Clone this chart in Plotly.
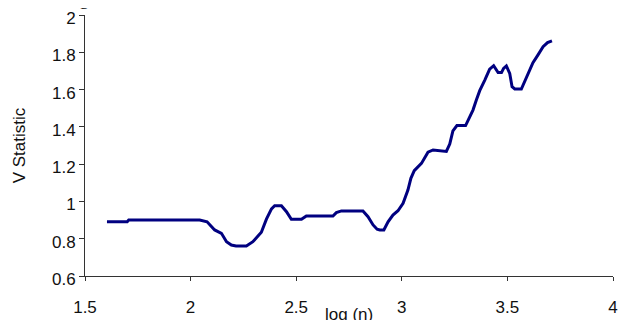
import plotly.graph_objects as go

log_n = [1.604, 1.700, 1.707, 2.043, 2.078, 2.114, 2.146, 2.170, 2.193, 2.215,
         2.264, 2.295, 2.335, 2.359, 2.383, 2.398, 2.430, 2.454, 2.477, 2.525,
         2.548, 2.674, 2.690, 2.714, 2.816, 2.840, 2.864, 2.883, 2.896, 2.915,
         2.935, 2.958, 2.982, 3.006, 3.029, 3.043, 3.059, 3.093, 3.124, 3.148,
         3.211, 3.227, 3.242, 3.261, 3.302, 3.324, 3.337, 3.353, 3.369, 3.393,
         3.416, 3.435, 3.456, 3.472, 3.482, 3.495, 3.511, 3.522, 3.535, 3.566,
         3.582, 3.605, 3.621, 3.645, 3.669, 3.690, 3.711]
v_stat = [0.891, 0.891, 0.900, 0.900, 0.891, 0.847, 0.829, 0.784, 0.766, 0.761,
          0.761, 0.784, 0.835, 0.905, 0.960, 0.977, 0.977, 0.945, 0.904, 0.904,
          0.922, 0.922, 0.940, 0.949, 0.949, 0.918, 0.874, 0.851, 0.847, 0.847,
          0.891, 0.927, 0.950, 0.990, 1.061, 1.124, 1.165, 1.204, 1.264, 1.276,
          1.268, 1.308, 1.378, 1.407, 1.407, 1.455, 1.490, 1.544, 1.594, 1.651,
          1.709, 1.728, 1.691, 1.691, 1.714, 1.727, 1.687, 1.615, 1.603, 1.603,
          1.642, 1.705, 1.744, 1.786, 1.830, 1.852, 1.861]

x_ticks = [1.5, 2, 2.5, 3, 3.5, 4]
x_tick_text = ["1.5", "2", "2.5", "3", "3.5", "4"]
y_ticks = [0.6, 0.8, 1, 1.2, 1.4, 1.6, 1.8, 2]
y_tick_text = ["0.6", "0.8", "1", "1.2", "1.4", "1.6", "1.8", "2"]

FONT = "Arial, Liberation Sans, sans-serif"

fig = go.Figure()
fig.add_trace(go.Scatter(x=log_n, y=v_stat, mode="lines",
                         line=dict(color="#000080", width=3),
                         showlegend=False, hoverinfo="skip"))

# the page body adds an 8px offset; margins compensate for it
fig.update_layout(
    width=626, height=320,
    margin=dict(l=77, r=21, t=7, b=52, autoexpand=False),
    paper_bgcolor="white", plot_bgcolor="white",
    font=dict(family=FONT, size=17, color="#111"),
    xaxis=dict(range=[1.5, 4], tickvals=x_ticks, ticktext=x_tick_text,
               showgrid=False, zeroline=False, showline=True, automargin=False,
               linecolor="#333", linewidth=1, ticks="outside", ticklen=4,
               tickcolor="#333", tickfont=dict(size=17), ticklabelstandoff=12,
               ticklabeloverflow="allow"),
    yaxis=dict(range=[0.6, 2], tickvals=y_ticks, ticktext=y_tick_text,
               showgrid=False, zeroline=False, showline=True, automargin=False,
               linecolor="#333", linewidth=1, ticks="outside", ticklen=5,
               tickcolor="#333", tickfont=dict(size=17),
               ticklabeloverflow="allow", ticklabelshift=3,
               title=dict(text="V Statistic", font=dict(size=17), standoff=22)),
    annotations=[
        dict(text="log (n)", xref="paper", yref="paper", x=0.5, y=-0.105,
             xanchor="center", yanchor="top", showarrow=False,
             font=dict(family=FONT, size=17, color="#111")),
        dict(text="g", xref="paper", yref="paper",
             x=(84 - 85.3) / 528, y=1.015, xanchor="center", yanchor="bottom",
             showarrow=False,
             font=dict(family="Liberation Serif, Times New Roman, serif",
                       size=20, color="#111")),
    ],
)

fig.write_html("out.html")
